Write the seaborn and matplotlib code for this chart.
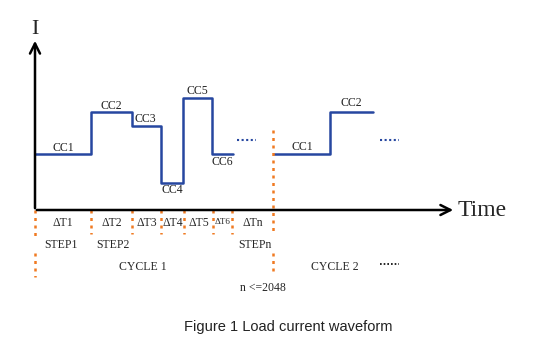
import numpy as np
import pandas as pd
import matplotlib.pyplot as plt
import seaborn as sns

sns.set_theme(style="white")
plt.rcParams['font.family'] = ['Liberation Serif', 'DejaVu Serif']

# ─────────────────────────────────────────────
# DATA (time / current in drawing units, origin at the axes corner)
# ─────────────────────────────────────────────
cycle1_edges = [0, 56, 97, 126, 148, 177, 198]
cycle1_levels = [56, 98, 84, 27, 112, 56]
cycle1_labels = ['CC1', 'CC2', 'CC3', 'CC4', 'CC5', 'CC6']
cycle1_label_y = [62, 104, 91, 20, 119, 48]

cycle2_edges = [239, 295, 338]
cycle2_levels = [56, 98]
cycle2_labels = ['CC1', 'CC2']
cycle2_label_y = [63, 107]

dt_labels = ['ΔT1', 'ΔT2', 'ΔT3', 'ΔT4', 'ΔT5', 'ΔT6', 'ΔTn']
dt_bounds = [0, 56, 97, 126, 149, 178, 197, 238]
step_labels = ['STEP1', 'STEP2', 'STEPn']
step_x = [26, 78, 220]

BLUE = '#2647a0'
ORANGE = '#f07a22'

def steps(edges, levels):
    return pd.DataFrame({'t': edges, 'I': levels + [levels[-1]]})

fig = plt.figure(figsize=(5.4, 3.56), dpi=100)
ax = fig.add_axes([0, 0, 1, 1])
ax.set_xlim(-35, 505)
ax.set_ylim(-146, 210)
ax.axis('off')

# waveform
for edges, levels in [(cycle1_edges, cycle1_levels), (cycle2_edges, cycle2_levels)]:
    sns.lineplot(data=steps(edges, levels), x='t', y='I', drawstyle='steps-post',
                 color=BLUE, lw=1.8, estimator=None, ax=ax)

for edges, levels, labels, ly in [(cycle1_edges, cycle1_levels, cycle1_labels, cycle1_label_y),
                                  (cycle2_edges, cycle2_levels, cycle2_labels, cycle2_label_y)]:
    for i, (lab, y) in enumerate(zip(labels, ly)):
        xm = (edges[i] + edges[i + 1]) / 2
        if lab in ('CC3',):
            xm = edges[i] + 13
        ax.text(xm, y, lab, ha='center', va='center', fontsize=8.5, color='#222222')

# continuation dots
for x0 in [202, 345]:
    ax.plot([x0, x0 + 19], [70, 70], color=BLUE, lw=1.5, ls=(0, (1, 1.2)))
ax.plot([345, 364], [-54, -54], color='black', lw=1.2, ls=(0, (1, 1.2)))

# axes with arrows
ax.annotate('', xy=(0, 172), xytext=(0, -1),
            arrowprops=dict(arrowstyle='->', lw=1.8, color='black', mutation_scale=18))
ax.annotate('', xy=(421, 0), xytext=(-1, 0),
            arrowprops=dict(arrowstyle='->', lw=1.8, color='black', mutation_scale=18))
ax.text(0, 181, 'I', ha='center', va='center', fontsize=16)
ax.text(423, 0, 'Time', ha='left', va='center', fontsize=17)

# orange step dividers
dots = (0, (1.2, 1.8))
for b in dt_bounds[1:-1]:
    ax.plot([b, b], [0, -24], color=ORANGE, lw=1.8, ls=dots)
ax.plot([0, 0], [0, -28], color=ORANGE, lw=1.8, ls=dots)
ax.plot([0, 0], [-43, -67], color=ORANGE, lw=1.8, ls=dots)
ax.plot([238, 238], [80, -23], color=ORANGE, lw=1.8, ls=dots)
ax.plot([238, 238], [-43, -65], color=ORANGE, lw=1.8, ls=dots)

for i, lab in enumerate(dt_labels):
    xm = (dt_bounds[i] + dt_bounds[i + 1]) / 2
    fs = 6.5 if lab == 'ΔT6' else 8.5
    ax.text(xm, -13 if lab != 'ΔT6' else -12, lab, ha='center', va='center', fontsize=fs,
            family=['Liberation Serif', 'DejaVu Serif'])
for lab, x in zip(step_labels, step_x):
    ax.text(x, -35, lab, ha='center', va='center', fontsize=8.5)

ax.text(108, -57, 'CYCLE 1', ha='center', va='center', fontsize=8.5)
ax.text(300, -57, 'CYCLE 2', ha='center', va='center', fontsize=8.5)
ax.text(228, -78, 'n <=2048', ha='center', va='center', fontsize=8.5)

ax.text(253, -117, 'Figure 1 Load current waveform', ha='center', va='center',
        fontsize=10.5, family='Liberation Sans', color='#222222')

plt.savefig('out.png', dpi=100)
